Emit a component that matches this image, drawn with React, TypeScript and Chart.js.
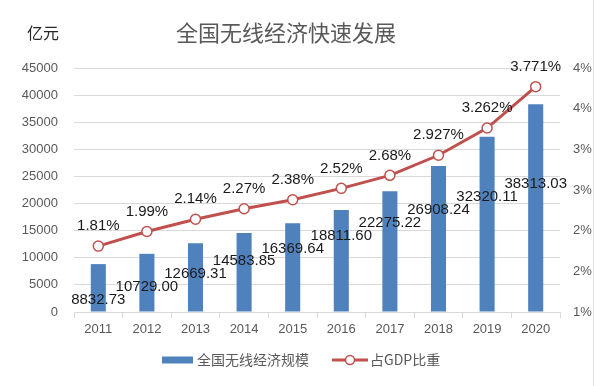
import React, { useEffect, useRef } from "react";
import { Chart, registerables } from "chart.js";

Chart.register(...registerables);

const years = ["2011", "2012", "2013", "2014", "2015", "2016", "2017", "2018", "2019", "2020"];
const scaleValues = [8832.73, 10729.0, 12669.31, 14583.85, 16369.64, 18811.6, 22275.22, 26908.24, 32320.11, 38313.03];
const gdpShare = [1.81, 1.99, 2.14, 2.27, 2.38, 2.52, 2.68, 2.927, 3.262, 3.771];
const gdpShareLabels = ["1.81%", "1.99%", "2.14%", "2.27%", "2.38%", "2.52%", "2.68%", "2.927%", "3.262%", "3.771%"];
const titleText = "全国无线经济快速发展";
const unitText = "亿元";
const barSeriesName = "全国无线经济规模";
const lineSeriesName = "占GDP比重";

const FONT = "'Liberation Sans', 'Noto Sans CJK SC', sans-serif";
const CJK = "'Noto Sans CJK SC', 'Liberation Sans', sans-serif";
const BLUE = "#4f81bd";
const RED = "#c0504d";

const decorPlugin = {
  id: "decor",
  afterDatasetsDraw(chart: any) {
    const ctx = chart.ctx;
    const area = chart.chartArea;
    ctx.save();
    const barMeta = chart.getDatasetMeta(0);
    ctx.font = `15px ${FONT}`;
    ctx.fillStyle = "#1a1a1a";
    ctx.textAlign = "center";
    ctx.textBaseline = "middle";
    barMeta.data.forEach((el: any, i: number) => {
      const y = area.bottom - 12 - i * 12.9;
      ctx.fillText(scaleValues[i].toFixed(2), el.x, y);
    });
    const lineMeta = chart.getDatasetMeta(1);
    lineMeta.data.forEach((el: any, i: number) => {
      ctx.fillText(gdpShareLabels[i], el.x, el.y - 20);
    });
    ctx.restore();
  },
  afterDraw(chart: any) {
    const ctx = chart.ctx;
    ctx.save();
    ctx.font = `22px ${CJK}`;
    ctx.fillStyle = "#595959";
    ctx.textAlign = "center";
    ctx.textBaseline = "middle";
    ctx.fillText(titleText, 286, 33);
    ctx.font = `16px ${CJK}`;
    ctx.fillStyle = "#262626";
    ctx.textAlign = "left";
    ctx.fillText(unitText, 27, 33);
    const ly = 360;
    ctx.fillStyle = BLUE;
    ctx.fillRect(162, ly - 3.5, 31, 7);
    ctx.font = `14px ${CJK}`;
    ctx.fillStyle = "#595959";
    ctx.fillText(barSeriesName, 197, ly);
    ctx.strokeStyle = RED;
    ctx.lineWidth = 3;
    ctx.beginPath();
    ctx.moveTo(332, ly);
    ctx.lineTo(368, ly);
    ctx.stroke();
    ctx.beginPath();
    ctx.arc(350, ly, 4.5, 0, Math.PI * 2);
    ctx.fillStyle = "#fff";
    ctx.fill();
    ctx.lineWidth = 1.5;
    ctx.stroke();
    ctx.fillStyle = "#595959";
    ctx.fillText(lineSeriesName, 370, ly);
    // outer border line on the right
    ctx.strokeStyle = "#e0e0e0";
    ctx.lineWidth = 1;
    ctx.beginPath();
    ctx.moveTo(593.5, 0);
    ctx.lineTo(593.5, 386);
    ctx.stroke();
    ctx.restore();
  },
};

export default function App() {
  const ref = useRef<HTMLCanvasElement>(null);
  useEffect(() => {
    if (!ref.current) return;
    const chart = new Chart(ref.current, {
      type: "bar",
      data: {
        labels: years,
        datasets: [
          {
            type: "bar",
            label: barSeriesName,
            data: scaleValues,
            backgroundColor: BLUE,
            yAxisID: "y",
            order: 1,
            categoryPercentage: 0.62,
            barPercentage: 0.5,
          },
          {
            type: "line",
            label: lineSeriesName,
            data: gdpShare,
            borderColor: RED,
            borderWidth: 3,
            pointBackgroundColor: "#ffffff",
            pointBorderColor: RED,
            pointBorderWidth: 1.5,
            pointRadius: 5,
            yAxisID: "y1",
            order: 0,
            tension: 0,
          },
        ] as any,
      },
      plugins: [decorPlugin],
      options: {
        animation: false,
        responsive: false,
        devicePixelRatio: 1,
        layout: { padding: { top: 68, left: 0, right: 0, bottom: 0 } },
        plugins: {
          legend: { display: false },
          tooltip: { enabled: false },
          title: { display: false },
        },
        scales: {
          x: {
            offset: true,
            grid: {
              offset: true,
              drawOnChartArea: false,
              color: "#d9d9d9",
              tickLength: 6,
            },
            border: { color: "#d9d9d9" },
            ticks: { color: "#595959", font: { family: FONT, size: 13 }, padding: 4 },
            afterFit(s: any) {
              s.height = 74;
            },
          },
          y: {
            position: "left",
            min: 0,
            max: 45000,
            ticks: {
              stepSize: 5000,
              color: "#595959",
              font: { family: FONT, size: 13 },
              padding: 16,
              callback: (v: any) => String(v),
            },
            grid: { color: "#d9d9d9", drawTicks: false },
            border: { display: false },
            afterFit(s: any) {
              s.width = 74;
            },
          },
          y1: {
            position: "right",
            min: 1,
            max: 4,
            ticks: {
              stepSize: 0.5,
              color: "#595959",
              font: { family: FONT, size: 13 },
              padding: 13,
              callback: (v: any) => Math.round(Number(v)) + "%",
            },
            grid: { display: false, drawTicks: false },
            border: { display: false },
            afterFit(s: any) {
              s.width = 40;
            },
          },
        },
      } as any,
    });
    return () => chart.destroy();
  }, []);
  return (
    <div style={{ position: "fixed", left: 0, top: 0, width: 600, height: 386, background: "#fff" }}>
      <canvas ref={ref} width={600} height={386} style={{ width: 600, height: 386 }} />
    </div>
  );
}
